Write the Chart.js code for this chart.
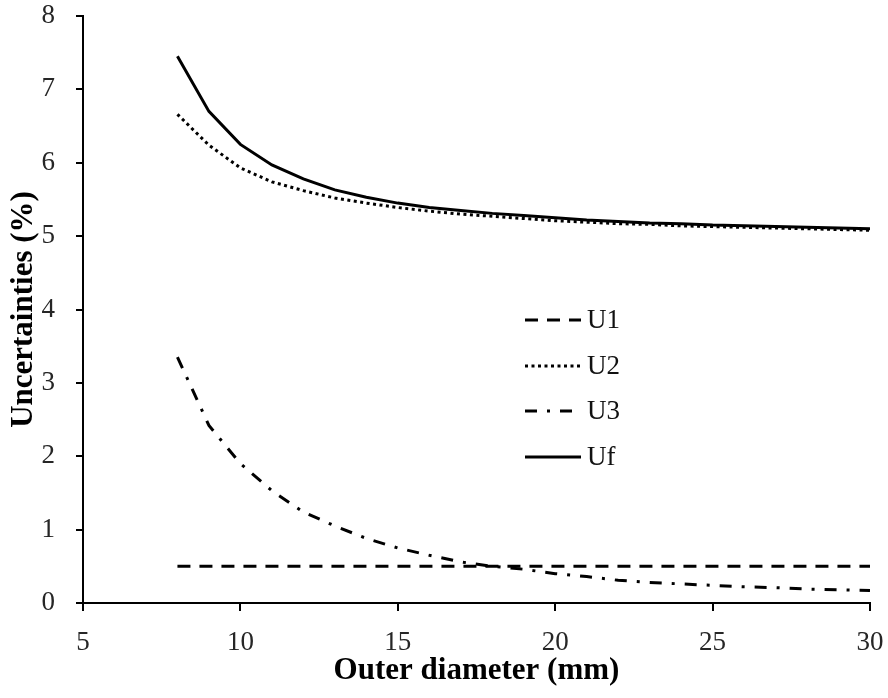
<!DOCTYPE html>
<html>
<head>
<meta charset="utf-8">
<script src="https://cdn.jsdelivr.net/npm/chart.js@4/dist/chart.umd.min.js"></script>
<style>
  html, body { margin: 0; padding: 0; background: #fff; }
  #wrap { width: 888px; height: 698px; }
</style>
</head>
<body>
<div id="wrap"><canvas id="uncChart"></canvas></div>
<script>
// outer diameter (mm)
const diameters = [8, 9, 10, 11, 12, 13, 14, 15, 16, 17, 18, 19, 20, 21, 22, 23, 24, 25, 26, 27, 28, 29, 30];
// uncertainties (%)
const u1 = [0.5, 0.5, 0.5, 0.5, 0.5, 0.5, 0.5, 0.5, 0.5, 0.5, 0.5, 0.5, 0.5, 0.5, 0.5, 0.5, 0.5, 0.5, 0.5, 0.5, 0.5, 0.5, 0.5];
const u2 = [6.66, 6.24, 5.93, 5.74, 5.62, 5.52, 5.45, 5.39, 5.34, 5.30, 5.27, 5.24, 5.21, 5.19, 5.17, 5.16, 5.14, 5.13, 5.12, 5.11, 5.10, 5.09, 5.08];
const u3 = [3.35, 2.42, 1.90, 1.53, 1.24, 1.05, 0.88, 0.75, 0.65, 0.56, 0.50, 0.46, 0.40, 0.36, 0.31, 0.28, 0.26, 0.24, 0.22, 0.21, 0.19, 0.18, 0.17];
const uf = [7.45, 6.70, 6.25, 5.97, 5.78, 5.63, 5.53, 5.45, 5.39, 5.35, 5.31, 5.28, 5.25, 5.22, 5.20, 5.18, 5.17, 5.15, 5.14, 5.13, 5.12, 5.11, 5.10];
const seriesNames = ["U1", "U2", "U3", "Uf"];
const xTicks = [5, 10, 15, 20, 25, 30];
const yTicks = [0, 1, 2, 3, 4, 5, 6, 7, 8];

const serif = "'Liberation Serif', 'Times New Roman', serif";

function pts(ys) {
  return diameters.map((d, i) => ({ x: d, y: ys[i] }));
}

// legend drawn inside the plot, the way the original has it
const insideLegend = {
  id: "insideLegend",
  afterDatasetsDraw(chart) {
    const ctx = chart.ctx;
    const x0 = 525, x1 = 581, tx = 587;
    const rows = [320, 366, 411, 457];
    ctx.save();
    ctx.font = "27px " + serif;
    ctx.textBaseline = "middle";
    ctx.fillStyle = "#111";
    chart.data.datasets.forEach((ds, i) => {
      ctx.beginPath();
      ctx.lineWidth = ds.borderWidth;
      ctx.strokeStyle = ds.borderColor;
      ctx.setLineDash(ds.borderDash || []);
      ctx.moveTo(x0, rows[i]);
      ctx.lineTo(x1, rows[i]);
      ctx.stroke();
      ctx.fillText(ds.label, tx, rows[i] + 1);
    });
    ctx.restore();
  }
};

const ctxEl = document.getElementById("uncChart").getContext("2d");

let uncChart = new Chart(ctxEl, {
  type: "line",
  data: {
    datasets: [
      { label: seriesNames[0], data: pts(u1), borderColor: "#000", borderWidth: 3, borderDash: [13, 9] },
      { label: seriesNames[1], data: pts(u2), borderColor: "#000", borderWidth: 3, borderDash: [3, 3.5] },
      { label: seriesNames[2], data: pts(u3), borderColor: "#000", borderWidth: 3, borderDash: [12, 10, 3, 10] },
      { label: seriesNames[3], data: pts(uf), borderColor: "#000", borderWidth: 3 }
    ]
  },
  options: {
    responsive: true,
    maintainAspectRatio: false,
    animation: false,
    layout: { padding: { top: 16, right: 18, left: 0, bottom: 0 } },
    elements: {
      point: { radius: 0, hoverRadius: 0 },
      line: { tension: 0, fill: false, borderCapStyle: "butt" }
    },
    plugins: {
      legend: { display: false },
      tooltip: { enabled: false }
    },
    scales: {
      x: {
        type: "linear",
        min: 5,
        max: 30,
        afterFit(scale) {
          scale.height = 95;
          scale.paddingLeft = 0;
          scale.paddingRight = 0;
        },
        afterBuildTicks(scale) { scale.ticks = xTicks.map(v => ({ value: v })); },
        border: { display: true, color: "#000", width: 2 },
        grid: { display: true, drawOnChartArea: false, drawTicks: true, tickLength: 8, color: "#000", lineWidth: 2 },
        ticks: { color: "#262626", padding: 16, font: { family: serif, size: 27 } },
        title: {
          display: true,
          text: "Outer diameter (mm)",
          color: "#000",
          padding: { top: 0, bottom: 8 },
          font: { family: serif, size: 31, weight: "bold" }
        }
      },
      y: {
        min: 0,
        max: 8,
        afterFit(scale) {
          scale.width = 83;
          scale.paddingTop = 0;
          scale.paddingBottom = 0;
        },
        afterBuildTicks(scale) { scale.ticks = yTicks.map(v => ({ value: v })); },
        border: { display: true, color: "#000", width: 2 },
        grid: { display: true, drawOnChartArea: false, drawTicks: true, tickLength: 7, color: "#000", lineWidth: 2 },
        ticks: { color: "#262626", padding: 21, font: { family: serif, size: 27 } },
        title: {
          display: true,
          text: "Uncertainties (%)",
          color: "#000",
          padding: { top: 5, bottom: 0 },
          font: { family: serif, size: 31, weight: "bold" }
        }
      }
    }
  },
  plugins: [insideLegend]
});
</script>
</body>
</html>
